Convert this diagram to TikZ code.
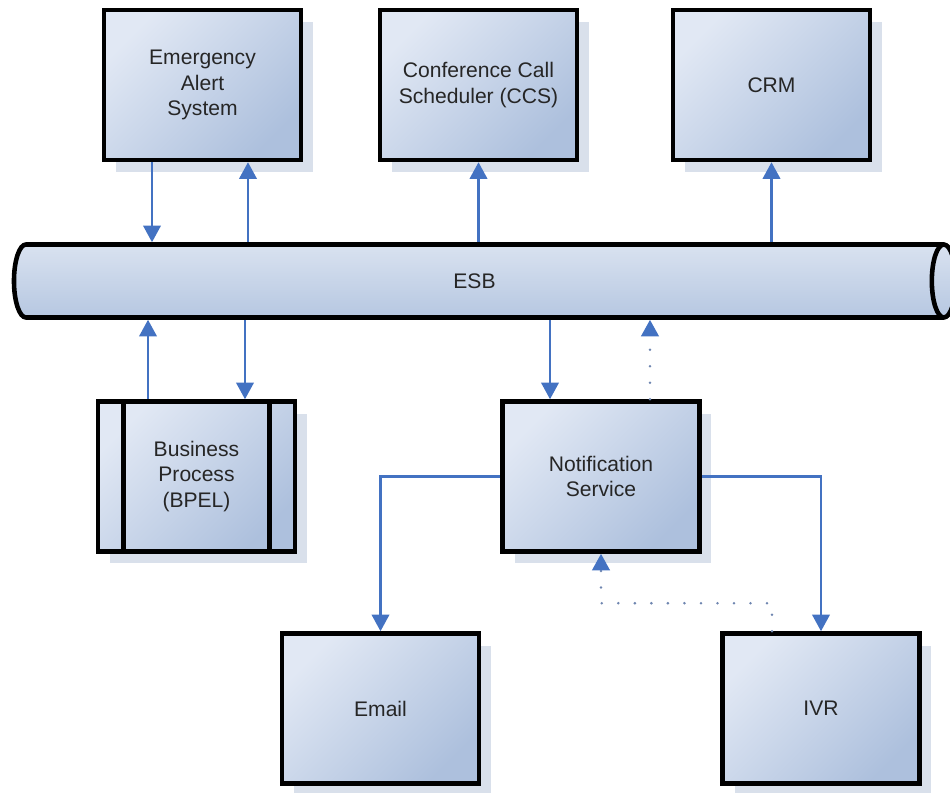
\documentclass[tikz,border=0pt]{standalone}
\usepackage{fontspec}
\setmainfont{Liberation Sans}
\usetikzlibrary{shapes.geometric, arrows.meta, shadows}
\definecolor{boxlight}{HTML}{E1E8F4}
\definecolor{boxdark}{HTML}{ADC0DD}
\definecolor{esblight}{HTML}{D9E2F0}
\definecolor{esbdark}{HTML}{B6C7E1}
\definecolor{shadowcol}{HTML}{D9E0EB}
\definecolor{flowblue}{HTML}{4372C2}
\definecolor{dotgray}{HTML}{6F86B0}
\definecolor{boxtext}{HTML}{262626}

\begin{document}
\begin{tikzpicture}[x=0.02cm, y=-0.02cm,
  box/.style={draw=black, line width=2.6pt, top color=boxlight, bottom color=boxdark, shading angle=45,
    minimum width=3.94cm, minimum height=3cm, align=center, text=boxtext,
    font=\fontsize{12}{14.5}\selectfont,
    drop shadow={shadow xshift=0.24cm, shadow yshift=-0.24cm, fill=shadowcol, opacity=1}},
  bus/.style={cylinder, draw=black, line width=2.6pt, top color=esblight, bottom color=esbdark,
    aspect=0.9, minimum height=18.84cm, minimum width=1.46cm, text=boxtext,
    font=\fontsize{12}{14.5}\selectfont},
  flow/.style={draw=flowblue, line width=1.3pt, -{Triangle[width=10pt,length=9.5pt]}},
  dotflow/.style={flow, draw=dotgray, line width=1.6pt, line cap=round, dash pattern=on 0pt off 9.4pt,
    -{Triangle[width=10pt,length=9.5pt,color=flowblue]}}]
\useasboundingbox (0,0) rectangle (950,793);

\node[box] (eas) at (202.5,85) {Emergency\\Alert\\System};
\node[box] (ccs) at (478.5,85) {Conference Call\\Scheduler (CCS)};
\node[box] (crm) at (771.5,85) {CRM};
\node[bus] (esb) at (474.5,281) {ESB};
\node[box] (bpel) at (196.5,476.5) {Business\\Process\\(BPEL)};
\draw[line width=2.6pt] ([xshift=0.55cm]bpel.north west) -- ([xshift=0.55cm]bpel.south west);
\draw[line width=2.6pt] ([xshift=-0.55cm]bpel.north east) -- ([xshift=-0.55cm]bpel.south east);
\node[box] (notif) at (601,476.5) {Notification\\Service};
\node[box] (email) at (380.5,708.5) {Email};
\node[box] (ivr) at (821,708.5) {IVR};

\draw[flow] ([xshift=-1.01cm]eas.south) -- ([xshift=-1.01cm]eas.south |- esb.north);
\draw[flow] ([xshift=0.91cm]eas.south |- esb.north) -- ([xshift=0.91cm]eas.south);
\draw[flow] (ccs.south |- esb.north) -- (ccs.south);
\draw[flow] (crm.south |- esb.north) -- (crm.south);
\draw[flow] ([xshift=-0.97cm]bpel.north) -- ([xshift=-0.97cm]bpel.north |- esb.south);
\draw[flow] ([xshift=0.97cm]bpel.north |- esb.south) -- ([xshift=0.97cm]bpel.north);
\draw[flow] ([xshift=-1.02cm]notif.north |- esb.south) -- ([xshift=-1.02cm]notif.north);
\draw[dotflow] ([xshift=0.98cm]notif.north) -- ([xshift=0.98cm]notif.north |- esb.south);
\draw[flow] (notif.west) -| (email.north);
\draw[flow] (notif.east) -| (ivr.north);
\draw[dotflow] ([xshift=-0.98cm]ivr.north) -- ++(0,0.56cm) -| (notif.south);
\end{tikzpicture}
\end{document}
